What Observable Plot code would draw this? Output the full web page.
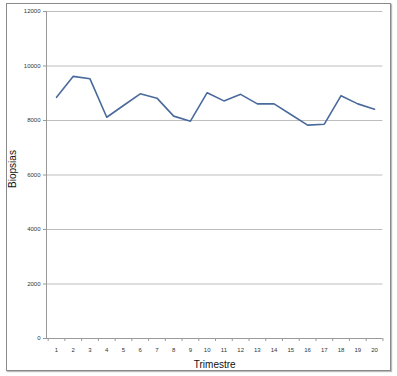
<!DOCTYPE html>
<html>
<head>
<meta charset="utf-8">
<script src="https://cdn.jsdelivr.net/npm/d3@7"></script>
<script src="https://cdn.jsdelivr.net/npm/@observablehq/plot@0.6"></script>
<style>
  body { margin: 0; background: #fff; }
  #wrap { position: relative; width: 397px; height: 376px; }
  #border { position: absolute; left: 6px; top: 3px; width: 383px; height: 366px; border: 1px solid #8a8a8a; box-shadow: 1px 1px 1px #bbb; pointer-events: none; }
</style>
</head>
<body>
<div id="wrap"><div id="border"></div></div>
<script>
const trimestres = [1,2,3,4,5,6,7,8,9,10,11,12,13,14,15,16,17,18,19,20];
const biopsias = [8850,9620,9530,8120,8550,8980,8820,8160,7975,9020,8720,8960,8610,8610,8220,7830,7865,8910,8610,8415];
const yTicks = [0,2000,4000,6000,8000,10000,12000];
const data = trimestres.map((t, i) => ({t, v: biopsias[i]}));
const bounds = d3.range(0.5, 21, 1);

const chart = Plot.plot({
  width: 397,
  height: 376,
  marginLeft: 46,
  marginRight: 14.6,
  marginTop: 11,
  marginBottom: 38,
  style: {fontFamily: "Arial, 'Liberation Sans', sans-serif", background: "transparent"},
  x: {domain: [0.4, 20.5], axis: null},
  y: {domain: [0, 12000], axis: null},
  marks: [
    Plot.gridY(yTicks.filter(d => d > 0), {stroke: "#bdbdbd", strokeOpacity: 1, strokeWidth: 1}),
    Plot.axisY({ticks: yTicks, tickSize: 3, tickPadding: 3, stroke: "#999", fontSize: 6, fill: "#333", tickFormat: d => String(d), label: null}),
    Plot.axisX({ticks: bounds, tickSize: 3, tickFormat: () => "", stroke: "#999", label: null}),
    Plot.axisX({ticks: trimestres, tickSize: 0, tickPadding: 9, fontSize: 6, fill: "#333", tickFormat: d => String(d), label: null}),
    Plot.ruleX([0.4], {stroke: "#999"}),
    Plot.ruleY([0], {stroke: "#999"}),
    Plot.line(data, {x: "t", y: "v", stroke: "#4a6a9c", strokeWidth: 1.6}),
    Plot.text(["Trimestre"], {frameAnchor: "bottom", dy: 29, fontSize: 10, fill: "#111"}),
    Plot.text(["Biopsias"], {frameAnchor: "left", textAnchor: "middle", dx: -34, dy: -6, rotate: -90, fontSize: 10, fill: "#111"})
  ]
});
document.getElementById("wrap").prepend(chart);
</script>
</body>
</html>
